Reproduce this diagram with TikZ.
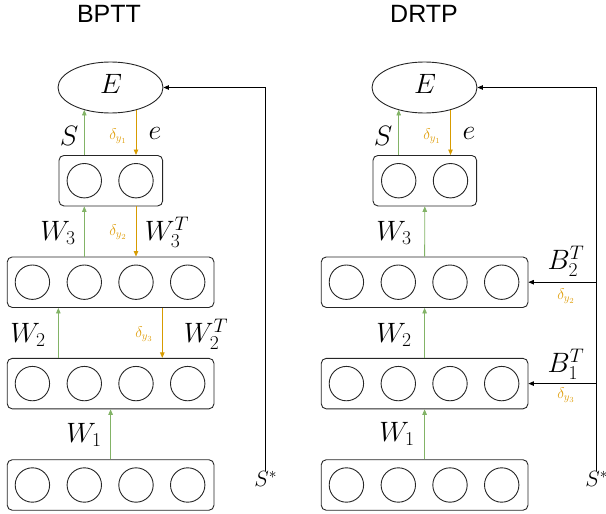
\RequirePackage{fix-cm}
\documentclass[tikz,border=0pt]{standalone}
\usepackage{fontspec}
\newfontfamily\titlefont{Liberation Sans}
\usetikzlibrary{arrows.meta,shapes.geometric,calc}
\definecolor{fwd}{HTML}{82B366}
\definecolor{bwd}{HTML}{D79B00}
\definecolor{dlt}{HTML}{E0A010}
\begin{document}
\begin{tikzpicture}[x=1pt,y=-1pt,
  every node/.style={inner sep=0pt},
  lay/.style={draw=black!85, line width=0.9pt, rounded corners=5pt, minimum height=50.5pt},
  unit/.style={draw=black!85, line width=0.9pt, circle, minimum size=34.4pt},
  err/.style={draw=black!85, line width=0.9pt, ellipse, minimum width=105pt, minimum height=51pt},
  lbl/.style={font=\fontsize{28}{30}\selectfont},
  dl/.style={text=dlt, font=\fontsize{15.5}{17}\selectfont},
  ttl/.style={font=\titlefont\fontsize{25}{28}\selectfont},
  tip/.style={-{Triangle[length=5.5pt,width=4.5pt]}},
  fw/.style={tip, draw=fwd, line width=0.8pt},
  bw/.style={tip, draw=bwd, line width=0.9pt},
  tg/.style={tip, draw=black, line width=0.8pt}]
\useasboundingbox (0,0) rectangle (606,514);

% titles
\node[ttl] (tL) at (109,14) {BPTT};
\node[ttl] (tR) at (424,14) {DRTP};

% ---------------- BPTT ----------------
\node[err] (EL) at (110.5,87.5) {};
\node[lbl] (ELt) at (111,84) {$E$};
\node[lay, minimum width=103.7pt] (L1) at (110.8,180.7) {};
\node[unit] (L1a) at (84.3,180.7) {};
\node[unit] (L1b) at (136,180.7) {};
\foreach \r/\y in {2/282.2,3/383.6,4/485}{
  \node[lay, minimum width=206.7pt] (L\r) at (110.6,\y) {};
  \node[unit] (L\r a) at (32.4,\y) {};
  \node[unit] (L\r b) at (84.3,\y) {};
  \node[unit] (L\r c) at (136,\y) {};
  \node[unit] (L\r d) at (187.7,\y) {};
}
% forward
\draw[fw] (L1a |- L1.north) -- (L1a |- EL.-140);
\draw[fw] (L2b |- L2.north) -- (L2b |- L1.south);
\coordinate (LW2) at ($(L3a)!0.5!(L3b)$);
\draw[fw] (LW2 |- L3.north) -- (LW2 |- L2.south);
\draw[fw] (L4.north) -- (L3.south);
% backward
\draw[bw] (L1b |- EL.-40) -- (L1b |- L1.north);
\draw[bw] (L1b |- L1.south) -- (L1b |- L2.north);
\coordinate (LB2) at (162.3,300);
\draw[bw] (LB2 |- L2.south) -- (LB2 |- L3.north);
% target
\node[lbl, font=\fontsize{22}{24}\selectfont, anchor=north] (SL) at (265.7,471) {$S^{*}$};
\draw[tg] (SL.north) -- (SL.north |- EL.east) -- (EL.east);
% labels
\node[lbl] at (69,135.5) {$S$};
\node[dl] at (118,136.5) {$\delta_{y_1}$};
\node[lbl] at (155,133) {$e$};
\node[lbl] at (58,233) {$W_3$};
\node[dl] at (118,232) {$\delta_{y_2}$};
\node[lbl] at (167,232) {$W_3^T$};
\node[lbl] at (28,335) {$W_2$};
\node[dl] at (144,334) {$\delta_{y_3}$};
\node[lbl] at (206,334) {$W_2^T$};
\node[lbl] at (84,435) {$W_1$};

% ---------------- DRTP ----------------
\node[err] (ER) at (424.5,87.5) {};
\node[lbl] (ERt) at (425,84) {$E$};
\node[lay, minimum width=103.7pt] (R1) at (424.8,180.7) {};
\node[unit] (R1a) at (398.7,180.7) {};
\node[unit] (R1b) at (450.5,180.7) {};
\foreach \r/\y in {2/282.2,3/383.6,4/485}{
  \node[lay, minimum width=206.7pt] (R\r) at (424.6,\y) {};
  \node[unit] (R\r a) at (346.4,\y) {};
  \node[unit] (R\r b) at (398.3,\y) {};
  \node[unit] (R\r c) at (450,\y) {};
  \node[unit] (R\r d) at (501.7,\y) {};
}
% forward
\draw[fw] (R1a |- R1.north) -- (R1a |- ER.-140);
\draw[fw] (R2.north) -- (R1.south);
\draw[fw] (R3.north) -- (R2.south);
\draw[fw] (R4.north) -- (R3.south);
% backward
\draw[bw] (R1b |- ER.-40) -- (R1b |- R1.north);
% target
\node[lbl, font=\fontsize{22}{24}\selectfont, anchor=north] (SR) at (596.7,471) {$S^{*}$};
\draw[tg] (SR.north) -- (SR.north |- ER.east) -- (ER.east);
\draw[tg] (SR.north |- R2.east) -- (R2.east);
\draw[tg] (SR.north |- R3.east) -- (R3.east);
% labels
\node[lbl] at (383,135.5) {$S$};
\node[dl] at (432,136.5) {$\delta_{y_1}$};
\node[lbl] at (469,133) {$e$};
\node[lbl] at (394,233) {$W_3$};
\node[lbl] at (566,261.5) {$B_2^T$};
\node[dl] at (566,296.5) {$\delta_{y_2}$};
\node[lbl] at (394,335) {$W_2$};
\node[lbl] at (566,364.5) {$B_1^T$};
\node[dl] at (566,395.5) {$\delta_{y_3}$};
\node[lbl] at (397,434) {$W_1$};
\end{tikzpicture}
\end{document}
